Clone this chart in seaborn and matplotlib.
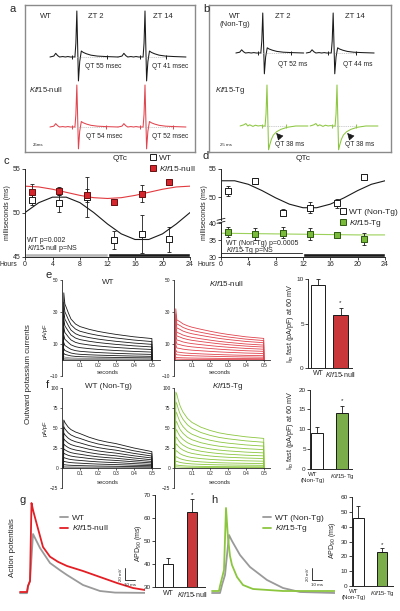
import numpy as np
import pandas as pd
import matplotlib
matplotlib.use("Agg")
import matplotlib.pyplot as plt
import seaborn as sns
from matplotlib.lines import Line2D

sns.set_theme(style="ticks")
plt.rcParams["font.family"] = ["Liberation Sans", "DejaVu Sans"]
plt.rcParams["mathtext.fontset"] = "custom"
plt.rcParams["mathtext.rm"] = "Liberation Sans"
plt.rcParams["mathtext.it"] = "Liberation Sans:italic"
plt.rcParams["mathtext.bf"] = "Liberation Sans:bold"
plt.rcParams["axes.linewidth"] = 0.7

# ---------------- data ----------------
# ECG beat template (ms relative to R peak, amplitude relative to R)
ecg_t = [-42, -36, -33, -30, -27, -22, -18, -14, -10, -6, -3, -1.5, 0, 2.5, 4.5, 7, 10, 15, 22, 32, 45, 64]
ecg_shape_normal = [0, .02, .08, .03, 0, .01, 0, .01, 0, 0, 0, .3, 1, -.52, -.1, .13, .1, .07, .04, .02, .01, 0]
ecg_shape_tg = [0, .03, .06, 0, .03, -.01, .02, 0, .01, 0, 0, .3, 1, -.58, -.45, -.32, -.22, -.14, -.08, -.03, 0, 0]
ecg_R_a_wt, ecg_R_a_null = 46, 42
ecg_R_b_wt, ecg_R_b_tg = 40, 41
qt_a_wt = [55, 41]
qt_a_null = [54, 52]
qt_b_wt = [52, 44]
qt_b_tg = [38, 38]
zt_labels = ["ZT 2", "ZT 14"]

# QTc
hours = [1, 5, 9, 13, 17, 21]
qtc_wt_c = [51.5, 51.1, 51.8, 46.9, 47.6, 47.0]
qtc_wt_c_err = [0.6, 1.0, 2.3, 1.0, 2.2, 1.4]
qtc_null_c = [52.4, 52.5, 52.0, 51.3, 52.2, 53.5]
qtc_null_c_err = [0.9, 0.5, 0.7, 0.3, 1.0, 0.35]
qtc_wt_d = [51.1, 52.9, 47.2, 48.1, 48.9, 53.6]
qtc_wt_d_err = [0.9, 0.5, 0.6, 1.0, 0.8, 0.3]
qtc_tg_d = [37.4, 36.7, 37.1, 36.8, 36.5, 35.2]
qtc_tg_d_err = [1.4, 1.7, 1.6, 1.7, 0.5, 1.8]
fit_hours = [0, 2, 4, 6, 8, 10, 12, 14, 16, 18, 20, 22, 24]
fit_wt_c = [50.05, 51.17, 51.8, 51.8, 51.17, 50.05, 48.75, 47.63, 46.99, 46.99, 47.63, 48.75, 50.05]
fit_null_c = [53.05, 52.96, 52.7, 52.35, 52.0, 51.74, 51.65, 51.74, 52.0, 52.35, 52.7, 52.96, 53.05]
fit_wt_d = [52.9, 52.9, 52.27, 51.15, 49.85, 48.73, 48.09, 48.09, 48.73, 49.85, 51.15, 52.27, 52.9]
fit_tg_d = [37.0, 36.95, 36.9, 36.85, 36.8, 36.75, 36.7, 36.65, 36.6, 36.55, 36.5, 36.5, 36.5]
phase_start = [0, 12]
phase_len = [12, 12]

# Outward K currents (pA/pF)
trace_t = [0.0, 0.006, 0.010, 0.016, 0.025, 0.035, 0.05, 0.075, 0.1, 0.15, 0.2, 0.25, 0.3, 0.4, 0.5, 0.5005]
ik_wt_e_top = [0, 1, 42, 35, 32.5, 29.5, 25.6, 22.5, 20.9, 19.2, 17.9, 16.9, 16.0, 14.5, 13.4, 0]
ik_null_e_top = [0, 1, 32, 25, 24.5, 23.8, 22.6, 21.4, 20.5, 19.2, 18.0, 16.9, 16.0, 14.5, 13.5, 0]
ik_wt_f_top = [0, 2, 60, 57, 54, 51, 48, 45, 43, 38.5, 35, 32.5, 30.5, 25.0, 20.5, 0]
ik_tg_f_top = [0, 3, 95, 92, 84, 77, 70, 62, 57, 51, 47, 44, 42, 39, 37, 0]
sweep_scale_wt_e = [1.0, 0.86, 0.73, 0.61, 0.49, 0.37, 0.26, 0.17, 0.10, 0.05, 0.025, 0.01]
sweep_scale_null_e = [1.0, 0.9, 0.8, 0.69, 0.6, 0.5, 0.4, 0.3, 0.2, 0.13, 0.06, 0.02]
sweep_scale_wt_f = [1.0, 0.86, 0.73, 0.61, 0.5, 0.4, 0.31, 0.22, 0.14, 0.07, 0.03, 0.015]
sweep_scale_tg_f = [1.0, 0.87, 0.74, 0.62, 0.51, 0.41, 0.32, 0.23, 0.15, 0.09, 0.04, 0.015]

# Ito fast bars
ito_e_groups = ["WT", r"$\it{Klf15}$-null"]
ito_e_vals = [9.3, 6.0]
ito_e_err = [0.7, 0.7]
ito_f_groups = ["WT\n(Non-Tg)", r"$\it{Klf15}$-Tg"]
ito_f_vals = [9.0, 14.1]
ito_f_err = [1.6, 1.7]

# Action potentials (ms, mV)
ap_g_wt_t = [0, 7, 8, 10, 13, 15, 20, 30, 40, 47, 63, 80, 95, 125]
ap_g_wt_v = [-82, -82, -70, -61.3, 18.6, 11.8, -5.2, -30.7, -43, -51.1, -68.1, -78.3, -81, -81.5]
ap_g_null_t = [0, 7, 8, 10, 11.5, 13, 17, 23, 30, 38, 47, 63, 80, 97, 113, 125]
ap_g_null_v = [-80, -80, -69.8, -61.3, 71.3, 59.4, 33.9, -3.5, -20, -28.7, -35.8, -44.3, -54.5, -64.7, -73.2, -76.6]
ap_h_wt_t = [0, 8, 10, 13, 17, 20, 28, 38, 55, 71, 88, 123]
ap_h_wt_v = [-81.7, -81.7, -68.1, -51.1, 16.9, 6.7, -17.1, -37.5, -59.6, -73.2, -80, -81.7]
ap_h_tg_t = [0, 7, 8, 10, 12, 14, 16, 18, 20, 25, 31, 41, 71, 123]
ap_h_tg_v = [-78.3, -78.3, -69.8, -56.2, -42.6, 62.8, 11.8, -18.8, -34.1, -54.5, -68.1, -74.9, -78.3, -78.3]

# APD90 bars
apd_g_groups = ["WT", r"$\it{Klf15}$-null"]
apd_g_vals = [40.0, 62.8]
apd_g_err = [2.9, 5.4]
apd_h_groups = ["WT\n(Non-Tg)", r"$\it{Klf15}$-Tg"]
apd_h_vals = [45.9, 22.8]
apd_h_err = [8.0, 2.6]

# ---------------- colours ----------------
BLACK = "#1a1a1a"
RED_LINE = "#e0444e"
RED_FILL = "#e31e24"
GREEN_LINE = "#8cc63f"
GREEN_FILL = "#7cbd3b"
GRAY = "#9a9a9a"

W, H = 400, 611
fig = plt.figure(figsize=(W / 100, H / 100), dpi=100)


def px_axes(x0, y0, x1, y1):
    return fig.add_axes([x0 / W, 1 - y1 / H, (x1 - x0) / W, (y1 - y0) / H])


def ftxt(x, y, s, size=5.5, ha="left", va="center", **kw):
    fig.text(x / W, 1 - y / H, s, fontsize=size, ha=ha, va=va, **kw)


def clean(ax):
    ax.set_xlabel("")
    ax.set_ylabel("")


# ---------------- ECG panels ----------------
MS_PER_PX = 1.5625


def draw_beats(ax, r_times, shape, amp, base, color, qts):
    rows = []
    for k, r in enumerate(r_times):
        for t, v in zip(ecg_t, shape):
            rows.append((k, r + t, base + amp * v))
    df = pd.DataFrame(rows, columns=["beat", "t", "v"])
    sns.lineplot(data=df, x="t", y="v", units="beat", estimator=None, sort=False,
                 color=color, lw=0.75, ax=ax, legend=False)
    for r, qt in zip(r_times, qts):
        t0 = r - 8
        ax.plot([t0, t0 + qt], [base, base], ls=(0, (2, 1.5)), color="#b0b0b0", lw=0.45)
        ax.plot([t0, t0 + qt], [base, base], ls="", marker="|", ms=3.2, mew=0.7, color=color)
    clean(ax)


def ecg_box(ax, width_px):
    ax.set_xlim(0, width_px * MS_PER_PX)
    ax.set_ylim(0, 147)
    ax.set_xticks([])
    ax.set_yticks([])
    for s in ax.spines.values():
        s.set_color("#8a8a8a")
        s.set_linewidth(1.0)


ax_a = px_axes(25, 5, 195, 152)
draw_beats(ax_a, [81, 187.5], ecg_shape_normal, ecg_R_a_wt, 95, BLACK, qt_a_wt)
draw_beats(ax_a, [81, 187.5], ecg_shape_normal, ecg_R_a_null, 25, RED_LINE, qt_a_null)
ecg_box(ax_a, 170)

ax_b = px_axes(209, 5, 391, 152)
draw_beats(ax_b, [84, 194], ecg_shape_normal, ecg_R_b_wt, 99, BLACK, qt_b_wt)
draw_beats(ax_b, [90.6, 200], ecg_shape_tg, ecg_R_b_tg, 26, GREEN_LINE, qt_b_tg)
ecg_box(ax_b, 182)
for tip in [105, 216]:
    ax_b.annotate("", xy=(tip, 19), xytext=(tip + 7, 14),
                  arrowprops=dict(arrowstyle="-|>,head_length=0.35,head_width=0.18",
                                  color="k", lw=0.5, shrinkA=0, shrinkB=0))

ftxt(10, 9, "a", size=8)
ftxt(203, 9, "b", size=8)
ftxt(40, 16, "WT", size=5.5)
ftxt(88, 16, zt_labels[0], size=5.5)
ftxt(153, 16, zt_labels[1], size=5.5)
ftxt(85, 66, f"QT {qt_a_wt[0]} msec", size=4.8)
ftxt(152, 66, f"QT {qt_a_wt[1]} msec", size=4.8)
ftxt(29, 90, r"$\it{Klf15}$-null", size=5.5)
ftxt(86, 137, f"QT {qt_a_null[0]} msec", size=4.8)
ftxt(152, 137, f"QT {qt_a_null[1]} msec", size=4.8)
ftxt(33, 145, "25ms", size=3.2)

ftxt(235, 16, "WT", size=5.5, ha="center")
ftxt(235, 25, "(Non-Tg)", size=5.5, ha="center")
ftxt(275, 16, zt_labels[0], size=5.5)
ftxt(345, 16, zt_labels[1], size=5.5)
ftxt(278, 65, f"QT {qt_b_wt[0]} ms", size=4.8)
ftxt(343, 65, f"QT {qt_b_wt[1]} ms", size=4.8)
ftxt(215, 90, r"$\it{Klf15}$-Tg", size=5.5)
ftxt(275, 144, f"QT {qt_b_tg[0]} ms", size=4.8)
ftxt(345, 144, f"QT {qt_b_tg[1]} ms", size=4.8)
ftxt(220, 145, "25 ms", size=3.2)

# ---------------- QTc panels ----------------
def qtc_style(ax):
    ax.set_xlim(0, 24)
    ax.spines[["top", "right"]].set_visible(False)
    ax.tick_params(labelsize=5, length=2, width=0.6, pad=1)


def points(ax, x, y, err, fc, ec):
    ax.errorbar(x, y, yerr=err, fmt="none", ecolor="k", elinewidth=0.6, capsize=1.2, capthick=0.6, zorder=2)
    sns.scatterplot(x=x, y=y, marker="s", s=14, color=fc, edgecolor=ec, linewidth=0.7, ax=ax, zorder=3)


axc = px_axes(25, 169, 190, 257)
sns.lineplot(x=fit_hours, y=fit_wt_c, color="k", lw=0.8, ax=axc)
sns.lineplot(x=fit_hours, y=fit_null_c, color="#e23a3f", lw=0.8, ax=axc)
points(axc, hours, qtc_wt_c, qtc_wt_c_err, "white", "k")
points(axc, hours, qtc_null_c, qtc_null_c_err, "#d5262e", "#6a0f10")
axc.broken_barh([(phase_start[0], phase_len[0])], (45, 0.45), facecolors="#b5b5b5")
axc.broken_barh([(phase_start[1], phase_len[1])], (45, 0.45), facecolors="k")
axc.set_ylim(45, 55)
axc.set_xticks(range(0, 25, 4))
axc.set_yticks([45, 50, 55])
qtc_style(axc)
clean(axc)
ftxt(4, 161, "c", size=8)
ftxt(120, 158, "QTc", size=6, ha="center")
ftxt(0, 264, "Hours", size=4.8)
ftxt(8, 213, "milliseconds (ms)", size=5, ha="center", rotation=90)
ftxt(27, 241, "WT p=0.002", size=5)
ftxt(27, 248.5, r"$\it{Klf15}$-null p=NS", size=5)
fig.legend(handles=[Line2D([], [], ls="", marker="s", ms=5, mfc="white", mec="k", mew=0.7),
                    Line2D([], [], ls="", marker="s", ms=5, mfc="#d5262e", mec="#6a0f10", mew=0.7)],
           labels=["WT", r"$\it{Klf15}$-null"], loc="upper left",
           bbox_to_anchor=(150 / W, 1 - 154 / H), frameon=False, fontsize=6,
           handlelength=0.8, handletextpad=0.3, labelspacing=0.25, borderpad=0, borderaxespad=0)

axd_top = px_axes(221, 169, 385, 220)
axd_bot = px_axes(221, 222, 385, 257)
sns.lineplot(x=fit_hours, y=fit_wt_d, color="k", lw=0.8, ax=axd_top)
points(axd_top, hours, qtc_wt_d, qtc_wt_d_err, "white", "k")
axd_top.set_ylim(45.9, 55)
axd_top.set_yticks([50, 55])
axd_top.set_xticks([])
qtc_style(axd_top)
axd_top.spines["bottom"].set_visible(False)
clean(axd_top)
sns.lineplot(x=fit_hours, y=fit_tg_d, color="#9bd15a", lw=0.8, ax=axd_bot)
points(axd_bot, hours, qtc_tg_d, qtc_tg_d_err, "#7aba3a", "#2d5a10")
axd_bot.broken_barh([(phase_start[0], phase_len[0])], (30, 1.2), facecolors="white", edgecolors="k", linewidth=0.6)
axd_bot.broken_barh([(phase_start[1], phase_len[1])], (30, 1.2), facecolors="k")
axd_bot.set_ylim(30, 40.3)
axd_bot.set_yticks([30, 35, 40])
axd_bot.set_xticks(range(0, 25, 4))
qtc_style(axd_bot)
clean(axd_bot)
for yy in (219.3, 222.3):
    fig.add_artist(Line2D([217 / W, 225 / W], [1 - (yy + 1) / H, 1 - (yy - 1) / H], color="k", lw=0.6))
ftxt(203, 156, "d", size=8)
ftxt(303, 159, "QTc", size=6, ha="center")
ftxt(198, 264, "Hours", size=4.8)
ftxt(205, 213, "milliseconds (ms)", size=5, ha="center", rotation=90)
ftxt(226, 243.5, "WT (Non-Tg) p=0.0005", size=5)
ftxt(226, 251, r"$\it{Klf15}$-Tg p=NS", size=5)
fig.legend(handles=[Line2D([], [], ls="", marker="s", ms=5, mfc="white", mec="k", mew=0.7),
                    Line2D([], [], ls="", marker="s", ms=5, mfc="#7aba3a", mec="#2d5a10", mew=0.7)],
           labels=["WT (Non-Tg)", r"$\it{Klf15}$-Tg"], loc="upper left",
           bbox_to_anchor=(340 / W, 1 - 208 / H), frameon=False, fontsize=6,
           handlelength=0.8, handletextpad=0.3, labelspacing=0.25, borderpad=0, borderaxespad=0)

# ---------------- current traces ----------------
def trace_panel(box, top, scales, color, ylim, yticks, xmax, gray_small):
    ax = px_axes(*box)
    rows_main, rows_gray = [], []
    for k, s in enumerate(scales):
        target = rows_gray if (gray_small and s < 0.06) else rows_main
        for t, v in zip(trace_t, top):
            target.append((k, t, v * s))
    for rows, c in ((rows_gray, "#8c8c8c"), (rows_main, color)):
        if rows:
            df = pd.DataFrame(rows, columns=["sweep", "t", "I"])
            sns.lineplot(data=df, x="t", y="I", units="sweep", estimator=None, sort=False,
                         color=c, lw=0.6, ax=ax, legend=False)
    ax.set_xlim(0, xmax)
    ax.set_ylim(*ylim)
    ax.spines["bottom"].set_position(("data", 0))
    ax.spines[["top", "right"]].set_visible(False)
    ax.spines["left"].set_linewidth(0.6)
    ax.spines["bottom"].set_linewidth(0.6)
    ax.set_xticks([0.1, 0.2, 0.3, 0.4, 0.5])
    ax.set_xticklabels(["0.1", "0.2", "0.3", "0.4", "0.5"])
    ax.set_yticks(yticks)
    ax.tick_params(labelsize=3.5, length=1.5, width=0.5, pad=1)
    clean(ax)
    return ax


trace_panel((62, 280, 160, 376), ik_wt_e_top, sweep_scale_wt_e, BLACK, (-10, 50), [-10, 10, 30, 50], 0.545, True)
trace_panel((174, 280, 270, 376), ik_null_e_top, sweep_scale_null_e, RED_LINE, (-10, 50), [-10, 10, 30, 50], 0.535, False)
trace_panel((62, 388, 160, 488), ik_wt_f_top, sweep_scale_wt_f, BLACK, (-25, 100), [-25, 0, 25, 50, 75, 100], 0.545, True)
trace_panel((174, 388, 270, 488), ik_tg_f_top, sweep_scale_tg_f, GREEN_LINE, (-25, 100), [-25, 0, 25, 50, 75, 100], 0.535, False)

ftxt(46, 275, "e", size=8)
ftxt(46, 385, "f", size=8)
ftxt(29, 374, "Outward potassium currents", size=5.8, ha="center", rotation=90)
ftxt(108, 283, "WT", size=5.8, ha="center")
ftxt(226, 283, r"$\it{Klf15}$-null", size=5.8, ha="center")
ftxt(108, 387, "WT (Non-Tg)", size=5.8, ha="center")
ftxt(228, 387, r"$\it{Klf15}$-Tg", size=5.8, ha="center")
ftxt(45, 331, "pA/pF", size=4.2, ha="center", rotation=90)
ftxt(45, 428, "pA/pF", size=4.2, ha="center", rotation=90)
ftxt(108, 373, "seconds", size=4.2, ha="center")
ftxt(220, 373, "seconds", size=4.2, ha="center")
ftxt(108, 482, "seconds", size=4.2, ha="center")
ftxt(220, 482, "seconds", size=4.2, ha="center")

# ---------------- bar panels ----------------
def bar_panel(box, cats, vals, errs, colors, ylim, yticks, xlim, width, star_idx, star_y, xl_size=5):
    ax = px_axes(*box)
    sns.barplot(x=cats, y=vals, hue=cats, palette=dict(zip(cats, colors)), edgecolor="k",
                linewidth=0.7, width=width, legend=False, ax=ax, errorbar=None)
    ax.errorbar(range(len(vals)), vals, yerr=[[0] * len(vals), errs], fmt="none",
                ecolor="k", elinewidth=0.6, capsize=1.5, capthick=0.6)
    ax.text(star_idx, star_y, "*", ha="center", va="center", fontsize=4.5)
    ax.set_ylim(*ylim)
    ax.set_xlim(*xlim)
    ax.set_yticks(yticks)
    ax.spines[["top", "right"]].set_visible(False)
    ax.tick_params(axis="y", labelsize=4.6, length=2, width=0.6, pad=1)
    ax.tick_params(axis="x", labelsize=xl_size, length=0, pad=2)
    clean(ax)
    return ax


bar_panel((308, 279.3, 352, 367.7), ito_e_groups, ito_e_vals, ito_e_err, ["white", RED_FILL],
          (0, 10), [0, 5, 10], (-0.47, 1.52), 0.64, 1, 7.4)
axf_bar = bar_panel((310, 389.5, 352, 469), ito_f_groups, ito_f_vals, ito_f_err, ["white", GREEN_FILL],
                    (0, 20), [0, 5, 10, 15, 20], (-0.28, 1.4), 0.45, 1, 17.2, xl_size=4.4)
bar_panel((155, 495, 205, 587.3), apd_g_groups, apd_g_vals, apd_g_err, ["white", RED_FILL],
          (30, 70), [30, 40, 50, 60, 70], (-0.56, 1.55), 0.44, 1, 70)
axh_bar = bar_panel((352, 496.7, 393, 586.3), apd_h_groups, apd_h_vals, apd_h_err, ["white", GREEN_FILL],
                    (0, 60), [0, 10, 20, 30, 40, 50, 60], (-0.27, 1.47), 0.45, 1, 28, xl_size=4.4)
for axb in (axf_bar, axh_bar):
    labs = axb.get_xticklabels()
    labs[0].set_horizontalalignment("right")
    labs[0].set_x(labs[0].get_position()[0])
    labs[0].set_multialignment("center")
    import matplotlib.transforms as mtransforms
    labs[0].set_transform(labs[0].get_transform() + mtransforms.ScaledTranslation(8 / 100, 0, fig.dpi_scale_trans))

ftxt(291, 323, r"I$_{\rm to}$ fast (pA/pF) at 60 mV", size=5.2, ha="center", rotation=90)
ftxt(291, 430, r"I$_{\rm to}$ fast (pA/pF) at 60 mV", size=5.2, ha="center", rotation=90)
ftxt(138, 543, r"APD$_{90}$ (ms)", size=5.0, ha="center", rotation=90)
ftxt(332, 540, r"APD$_{90}$ (ms)", size=5.0, ha="center", rotation=90)

# ---------------- action potentials ----------------
def ap_panel(box, xlim, t1, v1, c1, t2, v2, c2, bar_t):
    ax = px_axes(*box)
    sns.lineplot(x=t1, y=v1, color=c1, lw=1.3, ax=ax, sort=False, estimator=None)
    sns.lineplot(x=t2, y=v2, color=c2, lw=1.3, ax=ax, sort=False, estimator=None)
    ax.plot([bar_t, bar_t, bar_t + 10], [-40, -60, -60], color="k", lw=0.6)
    ax.text(bar_t - 2, -50, "20 mV", rotation=90, fontsize=3.2, ha="right", va="center")
    ax.text(bar_t + 5, -64, "10 ms", fontsize=3.2, ha="center", va="top")
    ax.set_xlim(*xlim)
    ax.set_ylim(-93.6, 76.4)
    ax.axis("off")
    clean(ax)
    return ax


ap_panel((18, 500, 145, 600), (-2, 125), ap_g_wt_t, ap_g_wt_v, GRAY, ap_g_null_t, ap_g_null_v, RED_FILL, 105)
ap_panel((208, 500, 335, 600), (-4, 123), ap_h_wt_t, ap_h_wt_v, GRAY, ap_h_tg_t, ap_h_tg_v, GREEN_LINE, 100)

ftxt(20, 500, "g", size=8)
ftxt(211, 500, "h", size=8)
ftxt(13, 548, "Action potentials", size=5.8, ha="center", rotation=90)
fig.legend(handles=[Line2D([], [], color=GRAY, lw=1.3), Line2D([], [], color=RED_FILL, lw=1.3)],
           labels=["WT", r"$\it{Klf15}$-null"], loc="upper left",
           bbox_to_anchor=(60 / W, 1 - 514 / H), frameon=False, fontsize=6,
           handlelength=1.0, handletextpad=0.4, labelspacing=0.2, borderpad=0, borderaxespad=0)
fig.legend(handles=[Line2D([], [], color=GRAY, lw=1.3), Line2D([], [], color=GREEN_LINE, lw=1.3)],
           labels=["WT (Non-Tg)", r"$\it{Klf15}$-Tg"], loc="upper left",
           bbox_to_anchor=(263 / W, 1 - 514 / H), frameon=False, fontsize=6,
           handlelength=1.0, handletextpad=0.4, labelspacing=0.2, borderpad=0, borderaxespad=0)

fig.savefig("out.png", dpi=100)
